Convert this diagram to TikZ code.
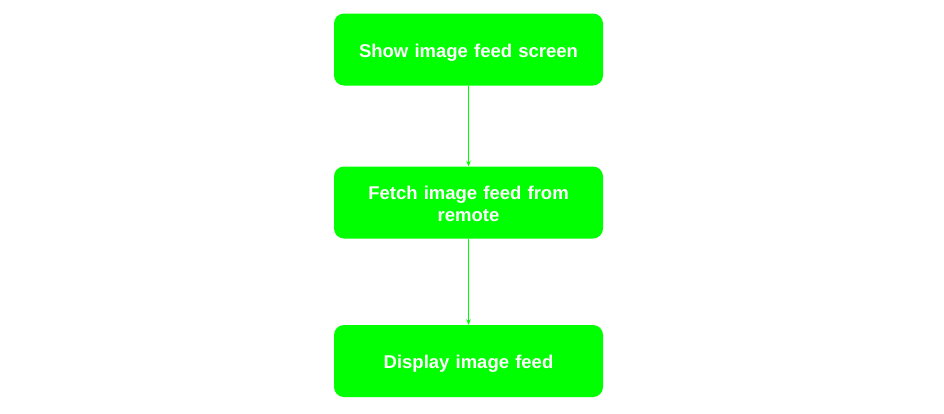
\documentclass[tikz,border=0pt]{standalone}
\usepackage{fontspec}
\setmainfont{Liberation Sans}
\usetikzlibrary{arrows.meta}
\definecolor{boxgreen}{HTML}{00FF00}
\begin{document}
\begin{tikzpicture}[x=1pt,y=-1pt,
  stepbox/.style={fill=boxgreen,draw=none,rounded corners=10pt,minimum width=269pt,minimum height=72pt,inner sep=0pt},
  steptext/.style={text=white,font=\fontsize{18.5}{21.5}\selectfont\bfseries,align=center,text width=250pt,inner sep=0pt},
  conn/.style={draw=boxgreen,line width=0.9pt,-{Stealth[length=5.5pt,width=4.5pt]}}]
\useasboundingbox (0,0) rectangle (944,413);
\node[stepbox] (a) at (468.5,49.5) {};
\node[stepbox] (b) at (468.5,202.5) {};
\node[stepbox] (c) at (468.5,361) {};
\node[steptext] (at) at ([yshift=-3pt]a.center) {Show image feed screen};
\node[steptext] (bt) at ([yshift=-1.5pt]b.center) {Fetch image feed from\\remote};
\node[steptext] (ct) at ([yshift=-3pt]c.center) {Display image feed};
\draw[conn] (a) -- (b);
\draw[conn] (b) -- (c);
\end{tikzpicture}
\end{document}
